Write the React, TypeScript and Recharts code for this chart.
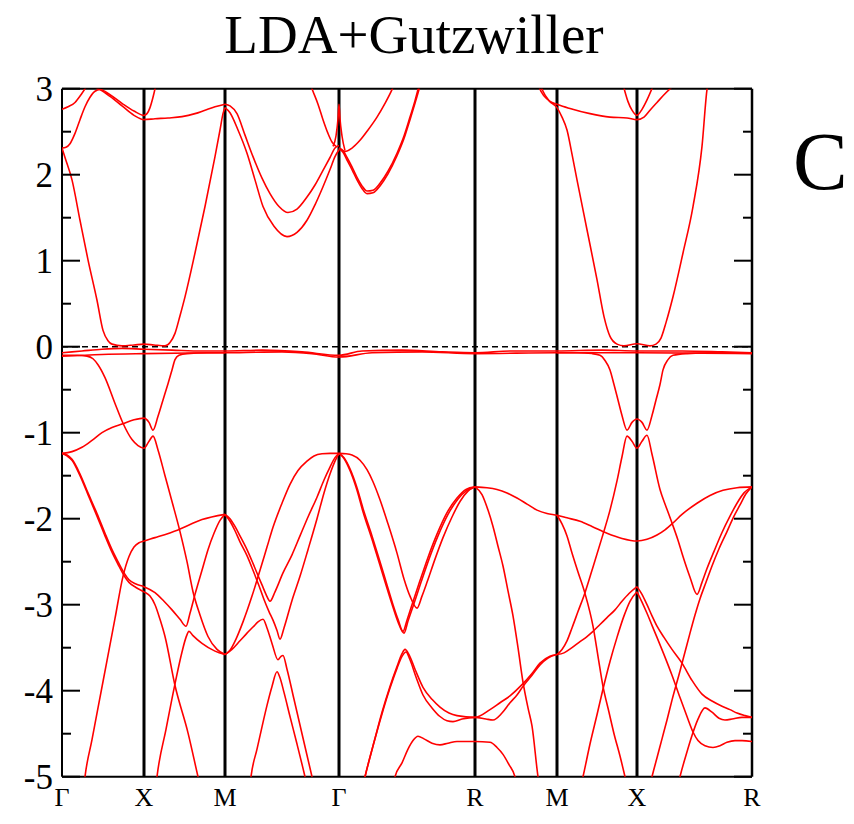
import React from "react";
import { LineChart, Line, XAxis, YAxis, ReferenceLine } from "recharts";

// path coordinate of the high-symmetry points and their labels
const symK = [0, 82, 163, 277, 413, 495, 575, 690];
const symLabels = ["Γ", "X", "M", "Γ", "R", "M", "X", "R"];
const yTicks = [-5, -4.5, -4, -3.5, -3, -2.5, -2, -1.5, -1, -0.5, 0, 0.5, 1, 1.5, 2, 2.5, 3];

type P = [number, number][];

// ---- bands above E_F ----
const gxA: P = [[0, 2.76], [6, 2.79], [13, 2.84], [19, 2.93], [23, 3.0], [27, 3.1]];
const gxB: P = [[0, 2.31], [4, 2.32], [8, 2.36], [13, 2.48], [18, 2.64], [23, 2.79], [28, 2.9], [33, 2.97], [38, 2.99], [48, 2.93], [60, 2.83], [72, 2.74], [82, 2.69], [85, 2.71], [88, 2.78], [91, 2.9], [94, 3.05]];
const gxC: P = [[31, 3.03], [38, 2.99], [48, 2.91], [60, 2.8], [72, 2.69], [82, 2.64], [93, 2.65], [106, 2.66], [120, 2.675], [133, 2.71], [143, 2.75], [153, 2.79], [163, 2.82]];
const gxD: P = [[0, 2.31], [3, 2.2], [10, 1.94], [18, 1.47], [26, 1.01], [35, 0.54], [41, 0.19], [46, 0.07], [50, 0.03], [60, 0.01], [72, 0.02], [82, 0.03], [92, 0.02], [103, 0.01], [108, 0.05], [113, 0.155], [118, 0.36], [123, 0.58], [133, 1.09], [143, 1.63], [153, 2.21], [158, 2.52], [161, 2.71], [163, 2.78]];
const mgUp1: P = [[163, 2.82], [168, 2.8], [175, 2.71], [183, 2.46], [191, 2.21], [200, 1.96], [208, 1.78], [217, 1.63], [226, 1.56], [235, 1.6], [245, 1.74], [253, 1.88], [261, 2.05], [268, 2.2], [273, 2.31], [277, 2.34]];
const mgUp2: P = [[163, 2.78], [168, 2.72], [176, 2.52], [185, 2.25], [193, 1.94], [201, 1.63], [212, 1.4], [225, 1.28], [235, 1.33], [245, 1.47], [253, 1.65], [261, 1.86], [268, 2.06], [273, 2.21], [277, 2.29]];
const mgTop: P = [[247, 3.1], [250, 3.0], [256, 2.82], [261, 2.64], [266, 2.48], [270, 2.38], [274, 2.33]];
const gSpike: P = [[271, 2.33], [274, 2.45], [276, 2.65], [277, 2.82], [278, 2.65], [280, 2.45], [283, 2.28]];
const grUp1: P = [[277, 2.31], [283, 2.27], [290, 2.31], [298, 2.4], [306, 2.52], [315, 2.67], [323, 2.83], [330, 2.99], [334, 3.1]];
const grUp2: P = [[277, 2.31], [281, 2.28], [285, 2.2], [290, 2.09], [295, 1.97], [300, 1.87], [305, 1.81], [311, 1.82], [318, 1.9], [326, 2.04], [335, 2.25], [342, 2.45], [348, 2.67], [353, 2.86], [356, 2.99], [359, 3.12]];
const grUp3: P = [[277, 2.3], [281, 2.26], [285, 2.17], [290, 2.06], [295, 1.94], [300, 1.84], [305, 1.78], [311, 1.79], [318, 1.87], [326, 2.01], [335, 2.22], [342, 2.42], [348, 2.64], [353, 2.83], [357, 2.99], [360, 3.12]];
const rxUp1: P = [[476, 3.05], [479, 2.97], [485, 2.88], [490, 2.84], [495, 2.82], [508, 2.77], [528, 2.71], [548, 2.67], [565, 2.66], [575, 2.64], [582, 2.67], [588, 2.75], [595, 2.84], [602, 2.93], [610, 3.02]];
const rxUp2: P = [[478, 3.06], [481, 2.97], [487, 2.86], [495, 2.78], [500, 2.67], [505, 2.52], [510, 2.24], [515, 1.94], [525, 1.36], [535, 0.78], [542, 0.35], [548, 0.12], [555, 0.03], [562, 0.01], [575, 0.035], [588, 0.01], [594, 0.03], [599, 0.1], [604, 0.28], [611, 0.58], [621, 1.09], [631, 1.63], [640, 2.33], [645, 2.99], [647, 3.12]];
const xUpV: P = [[561, 3.05], [566, 2.85], [570, 2.75], [575, 2.69], [580, 2.76], [585, 2.87], [591, 3.03]];

// ---- bands near E_F ----
const flat1: P = [[0, -0.07], [20, -0.05], [40, -0.03], [60, -0.02], [82, -0.03], [110, -0.04], [140, -0.05], [163, -0.05], [200, -0.04], [240, -0.06], [277, -0.1], [300, -0.05], [340, -0.04], [380, -0.06], [413, -0.07], [450, -0.05], [495, -0.05], [540, -0.04], [575, -0.05], [620, -0.05], [660, -0.06], [690, -0.07]];
const flat2: P = [[0, -0.11], [40, -0.09], [82, -0.08], [163, -0.07], [220, -0.06], [250, -0.08], [277, -0.12], [310, -0.07], [360, -0.06], [413, -0.08], [495, -0.07], [575, -0.07], [690, -0.08]];
const gxH: P = [[0, -1.24], [10, -1.22], [20, -1.17], [30, -1.09], [40, -1.0], [50, -0.94], [60, -0.9], [72, -0.85], [82, -0.83], [87, -0.88], [91, -0.97], [96, -0.81], [101, -0.62], [106, -0.43], [110, -0.27], [113, -0.15], [117, -0.1], [125, -0.08], [145, -0.07], [163, -0.07]];
const gxG1: P = [[0, -0.1], [15, -0.1], [25, -0.11], [31, -0.14], [36, -0.21], [43, -0.36], [53, -0.66], [61, -0.89], [70, -1.08], [76, -1.15], [82, -1.18], [87, -1.1], [91, -1.04], [96, -1.2], [103, -1.5], [110, -1.8], [118, -2.15], [125, -2.5], [131, -2.85], [138, -3.12], [146, -3.37], [155, -3.52], [163, -3.58]];
const xT1: P = [[495, -0.07], [515, -0.07], [530, -0.08], [538, -0.1], [543, -0.16], [548, -0.27], [552, -0.44], [556, -0.62], [560, -0.8], [565, -0.97], [570, -0.88], [575, -0.84], [580, -0.88], [585, -0.97], [590, -0.8], [594, -0.62], [598, -0.44], [601, -0.27], [606, -0.15], [611, -0.1], [625, -0.08], [650, -0.07], [690, -0.07]];

// ---- valence bands, Γ-X-M ----
const gxG2a: P = [[0, -1.24], [5, -1.26], [10, -1.31], [18, -1.48], [26, -1.7], [35, -1.94], [43, -2.17], [50, -2.36], [56, -2.5], [62, -2.63], [67, -2.71], [74, -2.76], [82, -2.79], [93, -2.86], [102, -2.96], [110, -3.06], [118, -3.17], [124, -3.25], [128, -3.1], [133, -2.88], [140, -2.6], [146, -2.36], [152, -2.17], [158, -2.02], [163, -1.95]];
const gxG2b: P = [[0, -1.24], [5, -1.27], [10, -1.32], [18, -1.5], [26, -1.72], [35, -1.97], [43, -2.2], [50, -2.39], [56, -2.53], [62, -2.66], [67, -2.74], [74, -2.8], [82, -2.85], [88, -2.9], [93, -3.0], [98, -3.17], [103, -3.37], [113, -3.94], [126, -4.49], [136, -5.0], [139, -5.15]];
const gxRise: P = [[22, -5.1], [23, -5.0], [30, -4.57], [36, -4.2], [45, -3.65], [53, -3.16], [61, -2.67], [67, -2.44], [72, -2.33], [77, -2.28], [82, -2.26], [93, -2.22], [116, -2.13], [140, -2.01], [163, -1.95]];
const xmRise: P = [[94, -5.1], [95, -5.0], [104, -4.45], [113, -3.92], [120, -3.55], [124, -3.38], [127, -3.31], [131, -3.36], [140, -3.45], [153, -3.54], [163, -3.58]];

// ---- M-Γ ----
const mgBroad: P = [[163, -3.58], [168, -3.53], [174, -3.4], [181, -3.2], [190, -2.9], [198, -2.6], [205, -2.33], [211, -2.1], [220, -1.82], [228, -1.6], [236, -1.44], [245, -1.33], [252, -1.27], [260, -1.245], [268, -1.24], [277, -1.24]];
const mgP: P = [[163, -1.95], [168, -2.0], [173, -2.09], [178, -2.2], [185, -2.36], [191, -2.52], [196, -2.66], [200, -2.77], [204, -2.88], [208, -2.96], [213, -2.85], [221, -2.63], [230, -2.42], [238, -2.2], [246, -1.98], [255, -1.75], [262, -1.55], [268, -1.4], [273, -1.29], [277, -1.24]];
const mgQ: P = [[163, -1.95], [168, -2.03], [173, -2.14], [178, -2.27], [185, -2.43], [191, -2.6], [197, -2.78], [202, -2.94], [207, -3.08], [211, -3.18], [215, -3.3], [218, -3.4], [222, -3.27], [230, -2.95], [238, -2.67], [246, -2.36], [255, -2.0], [262, -1.7], [268, -1.48], [273, -1.33], [277, -1.24]];
const mgR1: P = [[163, -3.58], [170, -3.52], [178, -3.42], [185, -3.33], [191, -3.26], [196, -3.2], [201, -3.17], [205, -3.27], [210, -3.45], [216, -3.64], [219, -3.6], [221, -3.59], [225, -3.75], [232, -4.1], [240, -4.5], [250, -5.0], [252, -5.1]];
const mgR2: P = [[188, -5.1], [189, -5.0], [195, -4.68], [200, -4.42], [205, -4.17], [210, -3.95], [215, -3.78], [218, -3.85], [222, -4.02], [228, -4.3], [235, -4.62], [243, -5.0], [245, -5.1]];

// ---- Γ-R ----
const grS1: P = [[277, -1.24], [284, -1.245], [290, -1.26], [298, -1.32], [305, -1.43], [311, -1.57], [318, -1.78], [326, -2.06], [335, -2.4], [342, -2.7], [348, -2.9], [355, -3.04], [360, -2.9], [365, -2.74], [373, -2.47], [381, -2.22], [390, -1.98], [398, -1.8], [406, -1.68], [413, -1.63]];
const grS2: P = [[277, -1.24], [282, -1.29], [288, -1.42], [295, -1.64], [301, -1.88], [310, -2.2], [318, -2.5], [325, -2.77], [331, -3.0], [336, -3.17], [341, -3.31], [345, -3.18], [350, -3.0], [358, -2.72], [366, -2.45], [375, -2.18], [385, -1.93], [395, -1.76], [404, -1.66], [413, -1.63]];
const grS3: P = [[277, -1.24], [282, -1.3], [288, -1.44], [295, -1.67], [301, -1.92], [310, -2.24], [318, -2.54], [325, -2.81], [331, -3.03], [336, -3.2], [342, -3.33], [346, -3.19], [351, -3.02], [359, -2.74], [367, -2.47], [376, -2.2], [386, -1.95], [396, -1.77], [405, -1.67], [413, -1.63]];
const grPkUp: P = [[301, -5.1], [303, -5.0], [312, -4.6], [320, -4.25], [328, -3.95], [335, -3.72], [340, -3.57], [343, -3.52], [347, -3.58], [353, -3.75], [361, -3.96], [370, -4.1], [378, -4.19], [387, -4.26], [395, -4.29], [413, -4.31], [428, -4.22], [438, -4.14], [448, -4.06], [460, -3.93], [470, -3.8], [478, -3.68], [488, -3.6], [495, -3.58]];
const grPkLo: P = [[301, -5.1], [303, -5.0], [312, -4.6], [320, -4.27], [328, -3.97], [335, -3.74], [340, -3.6], [344, -3.55], [348, -3.64], [354, -3.84], [361, -4.05], [370, -4.2], [378, -4.3], [385, -4.35], [391, -4.36], [400, -4.33], [413, -4.31], [424, -4.33], [431, -4.34], [440, -4.26], [448, -4.14], [455, -4.05], [461, -3.95], [470, -3.82], [478, -3.7], [486, -3.62], [495, -3.58]];
const grDeep: P = [[331, -5.1], [333, -5.0], [340, -4.84], [346, -4.68], [351, -4.58], [356, -4.53], [362, -4.56], [370, -4.61], [378, -4.63], [386, -4.61], [395, -4.59], [413, -4.59], [428, -4.6], [435, -4.66], [441, -4.74], [447, -4.86], [453, -5.0], [455, -5.1]];

// ---- R-M-X-R ----
const rSteep: P = [[413, -1.63], [420, -1.72], [426, -1.9], [431, -2.09], [436, -2.32], [441, -2.55], [446, -2.84], [451, -3.13], [456, -3.5], [461, -3.9], [466, -4.2], [470, -4.41], [476, -5.0], [478, -5.15]];
const rmGentle: P = [[413, -1.63], [425, -1.64], [435, -1.66], [445, -1.7], [455, -1.76], [465, -1.83], [475, -1.9], [485, -1.94], [495, -1.96], [505, -1.99], [518, -2.03], [530, -2.09], [545, -2.17], [560, -2.23], [575, -2.26], [585, -2.24], [595, -2.19], [603, -2.13], [611, -2.05], [620, -1.95], [635, -1.82], [648, -1.73], [661, -1.67], [675, -1.64], [690, -1.63]];
const mxSteep: P = [[495, -1.96], [500, -2.06], [505, -2.2], [510, -2.4], [516, -2.62], [523, -2.87], [531, -3.25], [536, -3.6], [541, -3.95], [547, -4.25], [552, -4.5], [558, -4.76], [563, -5.0], [565, -5.1]];
const mxL1: P = [[495, -3.58], [502, -3.56], [510, -3.5], [518, -3.43], [525, -3.37], [531, -3.31], [538, -3.23], [545, -3.15], [553, -3.06], [560, -2.96], [567, -2.87], [575, -2.79]];
const mxT2: P = [[495, -3.58], [500, -3.52], [505, -3.42], [510, -3.27], [516, -3.08], [523, -2.86], [530, -2.6], [540, -2.22], [548, -1.9], [555, -1.56], [560, -1.28], [565, -1.04], [570, -1.1], [575, -1.18], [580, -1.1], [585, -1.03], [590, -1.25], [598, -1.66], [604, -1.86], [610, -2.05], [616, -2.25], [621, -2.44], [628, -2.68], [635, -2.88], [640, -2.74], [645, -2.58], [652, -2.38], [660, -2.16], [668, -1.97], [675, -1.82], [682, -1.7], [690, -1.63]];
const mxUp: P = [[519, -5.1], [521, -5.0], [528, -4.62], [535, -4.28], [541, -3.98], [548, -3.66], [555, -3.38], [562, -3.13], [568, -2.96], [575, -2.85]];
const xr1: P = [[575, -2.79], [580, -2.88], [585, -3.0], [590, -3.13], [595, -3.25], [602, -3.38], [610, -3.52], [620, -3.68], [630, -3.88], [640, -4.04], [650, -4.12], [660, -4.18], [668, -4.22], [675, -4.26], [683, -4.29], [690, -4.31]];
const xr2: P = [[588, -5.1], [590, -5.0], [595, -4.78], [600, -4.56], [605, -4.34], [610, -4.11], [618, -3.77], [623, -3.55], [628, -3.33], [633, -3.12], [638, -2.93], [644, -2.74], [650, -2.55], [657, -2.35], [665, -2.15], [672, -1.97], [678, -1.84], [684, -1.71], [690, -1.63]];
const xr3: P = [[575, -2.85], [580, -2.97], [585, -3.1], [590, -3.24], [595, -3.38], [602, -3.58], [610, -3.82], [618, -4.08], [625, -4.3], [631, -4.48], [636, -4.58], [643, -4.64], [651, -4.66], [658, -4.64], [665, -4.6], [673, -4.58], [680, -4.58], [690, -4.59]];
const xr4: P = [[616, -5.1], [618, -5.0], [624, -4.75], [630, -4.52], [636, -4.33], [643, -4.2], [650, -4.25], [657, -4.32], [663, -4.34], [670, -4.33], [680, -4.31], [690, -4.31]];

const bands: P[] = [
  gxA, gxB, gxC, gxD, mgUp1, mgUp2, mgTop, gSpike, grUp1, grUp2, grUp3, rxUp1, rxUp2, xUpV,
  flat1, flat2, gxH, gxG1, xT1,
  gxG2a, gxG2b, gxRise, xmRise,
  mgBroad, mgP, mgQ, mgR1, mgR2,
  grS1, grS2, grS3, grPkUp, grPkLo, grDeep,
  rSteep, rmGentle, mxSteep, mxL1, mxT2, mxUp, xr1, xr2, xr3, xr4,
];

const W = 846;
const H = 816;
const PLOT_L = 54;
const PLOT_W = 690;
const PLOT_T = 80.7;
const PLOT_H = 688;
const PLOT_R = PLOT_L + PLOT_W;
const SERIF = "Liberation Serif, Times New Roman, serif";

const YTick = (props: any) => {
  const { y, payload } = props;
  const v = payload.value as number;
  const major = Number.isInteger(v);
  const len = major ? 18 : 9;
  return (
    <g>
      <line x1={PLOT_L} x2={PLOT_L + len} y1={y} y2={y} stroke="#000" strokeWidth={2} />
      <line x1={PLOT_R - len} x2={PLOT_R} y1={y} y2={y} stroke="#000" strokeWidth={2} />
      {major && (
        <text x={PLOT_L - 9} y={y} dy="0.36em" textAnchor="end" fontSize={35} style={{ fontFamily: SERIF }} fill="#000">
          {v}
        </text>
      )}
    </g>
  );
};

export default function App() {
  return (
    <div style={{ position: "relative", width: W, height: H }}>
      <LineChart
        width={W}
        height={H}
        margin={{ top: PLOT_T, right: W - PLOT_R, bottom: 0, left: 0 }}
      >
        <XAxis
          type="number"
          dataKey="k"
          domain={[0, 690]}
          ticks={symK}
          allowDataOverflow
          height={H - PLOT_T - PLOT_H}
          tickLine={false}
          axisLine={false}
          tickSize={6}
          tickMargin={5}
          interval={0}
          tickFormatter={(v: number) => symLabels[symK.indexOf(v)] ?? ""}
          tick={{ fontSize: 26, fill: "#000", fontFamily: SERIF }}
        />
        <YAxis
          type="number"
          domain={[-5, 3]}
          ticks={yTicks}
          allowDataOverflow
          width={PLOT_L}
          interval={0}
          tickLine={false}
          axisLine={false}
          tick={<YTick />}
        />
        <ReferenceLine y={0} stroke="#000" strokeWidth={1.5} strokeDasharray="6 4" />
        {symK.slice(1, -1).map((k, i) => (
          <ReferenceLine key={`sym-${i}`} x={k} stroke="#000" strokeWidth={3} />
        ))}
        <ReferenceLine x={0} stroke="#000" strokeWidth={2} />
        <ReferenceLine x={690} stroke="#000" strokeWidth={2.5} />
        <ReferenceLine y={3} stroke="#000" strokeWidth={2} />
        <ReferenceLine y={-5} stroke="#000" strokeWidth={2} />
        {bands.map((b, i) => (
          <Line
            key={`band-${i}`}
            data={b.map(([k, e]) => ({ k, e }))}
            dataKey="e"
            type="monotone"
            stroke="#ff0000"
            strokeWidth={1.6}
            dot={false}
            activeDot={false}
            isAnimationActive={false}
          />
        ))}
      </LineChart>
      <svg width={W} height={H + 8} style={{ position: "absolute", left: 0, top: -8, pointerEvents: "none" }}>
        <text x={406} y={53} textAnchor="middle" fontSize={55} style={{ fontFamily: SERIF }} fill="#000">
          LDA+Gutzwiller
        </text>
        <text x={785} y={189} fontSize={82} style={{ fontFamily: SERIF }} fill="#000">
          C
        </text>
      </svg>
    </div>
  );
}
